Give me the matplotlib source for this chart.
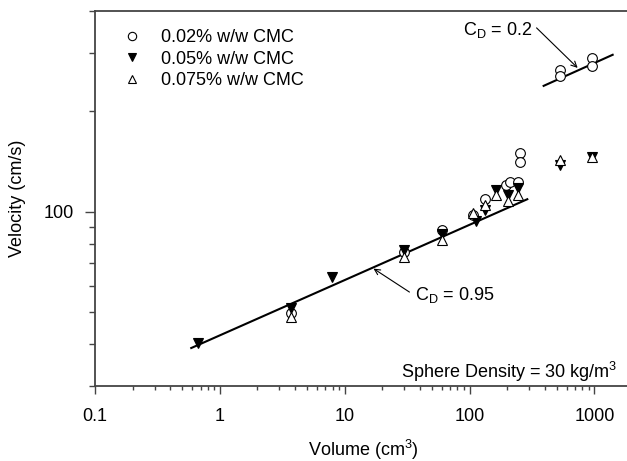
import matplotlib
matplotlib.use("Agg")
import matplotlib.pyplot as plt
from matplotlib.lines import Line2D
from matplotlib.ticker import LogLocator, NullFormatter

plt.rcParams['font.family'] = ['Liberation Sans', 'DejaVu Sans']
plt.rcParams['mathtext.fontset'] = 'custom'
plt.rcParams['mathtext.rm'] = 'Liberation Sans'
plt.rcParams['mathtext.it'] = 'Liberation Sans'

# ---- data ----
cmc002_vol = [3.74, 30, 60, 106, 132, 195, 210, 243, 252, 252, 535, 535, 950, 950]
cmc002_vel = [49.6, 75.5, 88, 97.5, 109, 120, 123, 122.5, 150, 141, 266, 256, 289, 274]

cmc005_vol = [0.67, 3.74, 7.98, 30, 60, 112, 132, 164, 202, 243, 535, 950]
cmc005_vel = [40.4, 51.4, 63.7, 76.5, 86, 94, 101, 116, 112, 117.5, 138, 146]

cmc0075_vol = [3.74, 30, 60, 106, 132, 164, 202, 243, 535, 950]
cmc0075_vel = [48.3, 73, 82, 99, 105, 112, 108, 112, 143, 146]

cd095_vol = [0.59, 290]
cd095_vel = [39.0, 109]
cd02_vol = [392, 1400]
cd02_vel = [238.5, 295.6]

labels = ['0.02% w/w CMC', '0.05% w/w CMC', '0.075% w/w CMC']
xticks = [0.1, 1, 10, 100, 1000]
xticklabels = ['0.1', '1', '10', '100', '1000']

W, H = 627, 461
fig = plt.figure(figsize=(W / 100, H / 100), dpi=100)
ax = fig.add_axes([95 / W, (H - 386) / H, (632 - 95) / W, (386 - 11) / H])

axcol = '#444444'
fs = 13
ax.plot(cd095_vol, cd095_vel, color='black', lw=1.5, zorder=2)
ax.plot(cd02_vol, cd02_vel, color='black', lw=1.5, zorder=2)

ms = 7
ax.plot(cmc002_vol, cmc002_vel, ls='none', marker='o', ms=ms, mfc='white', mec='black', mew=0.8, zorder=3)
ax.plot(cmc005_vol, cmc005_vel, ls='none', marker='v', ms=ms, mfc='black', mec='black', mew=0.8, zorder=4)
ax.plot(cmc0075_vol, cmc0075_vel, ls='none', marker='^', ms=ms, mfc='white', mec='black', mew=0.8, zorder=5)

ax.set_xscale('log')
ax.set_yscale('log')
ax.set_xlim(0.1, 2000)
ax.set_ylim(30, 400)

ax.set_xticks(xticks)
ax.set_xticklabels(xticklabels)
ax.set_yticks([100])
ax.set_yticklabels(['100'])
ax.xaxis.set_minor_locator(LogLocator(base=10, subs=range(2, 10)))
ax.yaxis.set_minor_locator(LogLocator(base=10, subs=range(2, 10)))
ax.xaxis.set_minor_formatter(NullFormatter())
ax.yaxis.set_minor_formatter(NullFormatter())

ax.tick_params(which='major', direction='out', length=6, width=1, color=axcol, labelsize=fs)
ax.tick_params(which='minor', direction='out', length=3, width=1, color=axcol)
ax.tick_params(axis='y', which='major', length=7, pad=8)
ax.tick_params(axis='y', which='minor', length=4)
ax.tick_params(axis='x', which='major', pad=10)

ax.spines['right'].set_visible(False)
for s in ['left', 'bottom', 'top']:
    ax.spines[s].set_color(axcol)
    ax.spines[s].set_linewidth(1.3)

ax.set_xlabel('Volume (cm$^{3}$)', fontsize=fs, labelpad=9)
ax.set_ylabel('Velocity (cm/s)', fontsize=fs, labelpad=13)

handles = [
    Line2D([], [], ls='none', marker='o', ms=ms - 1, mfc='white', mec='black', mew=0.8),
    Line2D([], [], ls='none', marker='v', ms=ms - 1, mfc='black', mec='black', mew=0.8),
    Line2D([], [], ls='none', marker='^', ms=ms - 1, mfc='white', mec='black', mew=0.8),
]
ax.legend(handles, labels, loc='upper left', bbox_to_anchor=(0.02, 0.985), frameon=False,
          fontsize=fs, labelspacing=0.25, handletextpad=0.85, handlelength=1.5, borderaxespad=0.3)

# C_D = 0.2 annotation
ax.text(320, 351, '$\\mathregular{C_D}$ = 0.2', fontsize=fs, ha='right', va='center')
ax.annotate('', xy=(734, 270), xytext=(344, 356),
            arrowprops=dict(arrowstyle='->', color='black', lw=0.8, shrinkA=0, shrinkB=0))
# C_D = 0.95 annotation
ax.text(36.3, 56.2, '$\\mathregular{C_D}$ = 0.95', fontsize=fs, ha='left', va='center')
ax.annotate('', xy=(17, 67.5), xytext=(33, 57.4),
            arrowprops=dict(arrowstyle='->', color='black', lw=0.8, shrinkA=0, shrinkB=0))

ax.text(0.972, 0.037, 'Sphere Density = 30 kg/m$^{3}$', transform=ax.transAxes,
        fontsize=fs, ha='right', va='center')

fig.savefig('out.png', dpi=100)
